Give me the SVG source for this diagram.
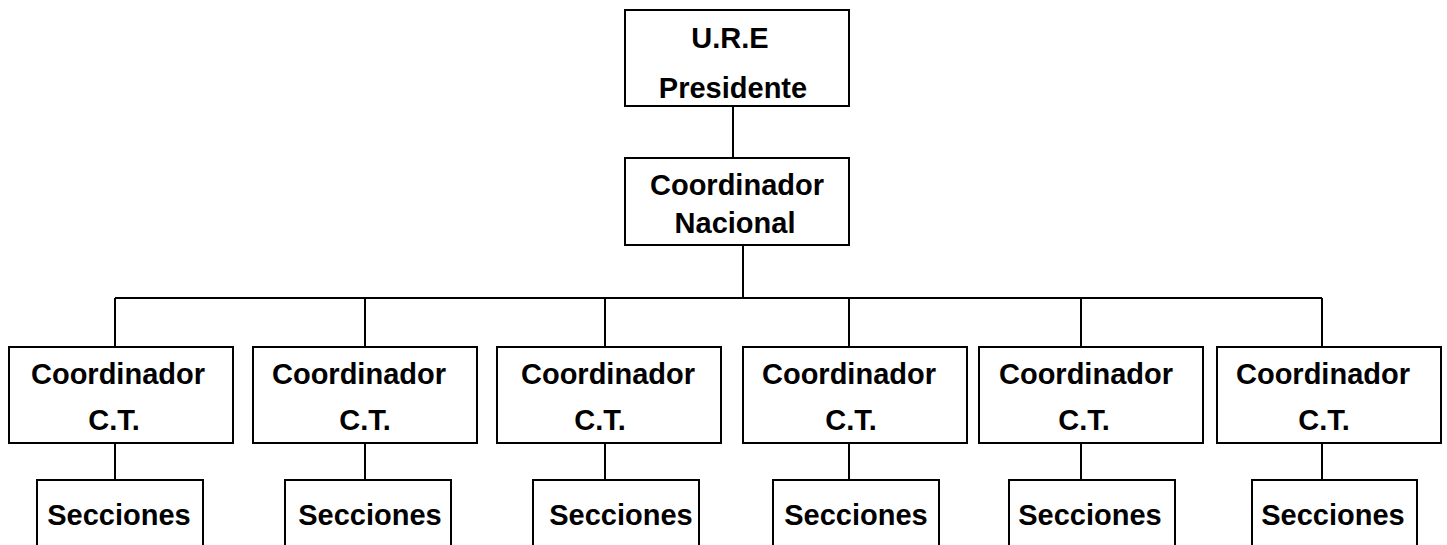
<svg xmlns="http://www.w3.org/2000/svg" width="1447" height="545" viewBox="0 0 1447 545">
<style>
.box{fill:#fff;stroke:#000;stroke-width:2}
.ln{fill:none;stroke:#000;stroke-width:2}
text{font-family:"Liberation Sans",Arial,sans-serif;font-weight:bold;font-size:29px;fill:#000;text-anchor:middle}
</style>
<rect width="1447" height="545" fill="#fff"/>
<g id="connectors">
<path class="ln" d="M733 106V158M743 245V298M115 298H1322M115 298V347M365 298V347M605 298V347M849 298V347M1081 298V347M1322 298V347"/>
<path class="ln" d="M115 443V480M365 443V480M605 443V480M849 443V480M1081 443V480M1322 443V480"/>
</g>
<g id="ure"><rect class="box" x="625" y="10" width="224" height="96"/><text x="730" y="48">U.R.E</text><text x="733" y="98">Presidente</text></g>
<g id="nacional"><rect class="box" x="625" y="158" width="224" height="87"/><text x="737" y="195">Coordinador</text><text x="735" y="233">Nacional</text></g>
<g id="ct1"><rect class="box" x="9" y="347" width="224" height="96"/><text x="118" y="384">Coordinador</text><text x="114" y="430">C.T.</text></g>
<g id="ct2"><rect class="box" x="253" y="347" width="224" height="96"/><text x="359" y="384">Coordinador</text><text x="365" y="430">C.T.</text></g>
<g id="ct3"><rect class="box" x="497" y="347" width="224" height="96"/><text x="608" y="384">Coordinador</text><text x="600" y="430">C.T.</text></g>
<g id="ct4"><rect class="box" x="743" y="347" width="224" height="96"/><text x="849" y="384">Coordinador</text><text x="851" y="430">C.T.</text></g>
<g id="ct5"><rect class="box" x="979" y="347" width="224" height="96"/><text x="1086" y="384">Coordinador</text><text x="1084" y="430">C.T.</text></g>
<g id="ct6"><rect class="box" x="1217" y="347" width="224" height="96"/><text x="1323" y="384">Coordinador</text><text x="1324" y="430">C.T.</text></g>
<g id="sec1"><rect class="box" x="37" y="480" width="166" height="90"/><text x="119" y="525">Secciones</text></g>
<g id="sec2"><rect class="box" x="285" y="480" width="166" height="90"/><text x="370" y="525">Secciones</text></g>
<g id="sec3"><rect class="box" x="533" y="480" width="166" height="90"/><text x="621" y="525">Secciones</text></g>
<g id="sec4"><rect class="box" x="773" y="480" width="166" height="90"/><text x="856" y="525">Secciones</text></g>
<g id="sec5"><rect class="box" x="1009" y="480" width="166" height="90"/><text x="1090" y="525">Secciones</text></g>
<g id="sec6"><rect class="box" x="1252" y="480" width="165" height="90"/><text x="1333" y="525">Secciones</text></g>
</svg>
